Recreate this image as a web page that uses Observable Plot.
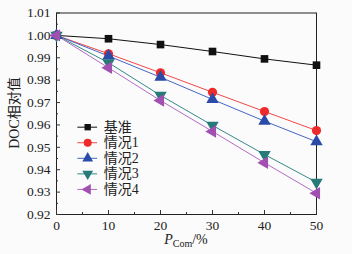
<!DOCTYPE html>
<html>
<head>
<meta charset="utf-8">
<script src="https://cdn.jsdelivr.net/npm/d3@7"></script>
<script src="https://cdn.jsdelivr.net/npm/@observablehq/plot@0.6"></script>
<style>
  html, body { margin: 0; padding: 0; background: #ffffff; }
  #chart svg { display: block; }
  #chart svg text { font-family: "Liberation Serif", "Noto Sans CJK SC", serif; }
</style>
</head>
<body>
<div id="chart"></div>
<script>
const pCom = [0, 10, 20, 30, 40, 50];
const seriesNames = ["基准", "情况1", "情况2", "情况3", "情况4"];
const base  = [1.0, 0.9985, 0.9959, 0.9928, 0.9895, 0.9867];
const case1 = [1.0, 0.9918, 0.9833, 0.9746, 0.9660, 0.9575];
const case2 = [1.0, 0.9908, 0.9813, 0.9714, 0.9617, 0.9525];
const case3 = [1.0, 0.9878, 0.9732, 0.9598, 0.9468, 0.9344];
const case4 = [1.0, 0.9855, 0.9709, 0.9571, 0.9431, 0.9295];
const yTicks = [0.92, 0.93, 0.94, 0.95, 0.96, 0.97, 0.98, 0.99, 1.00, 1.01];
const xTicks = [0, 10, 20, 30, 40, 50];

const allValues = [base, case1, case2, case3, case4];
const colors = ["#111111", "#ee2a2a", "#2a4ca8", "#267a78", "#a150b2"];
const lineColors = ["#111111", "#f04848", "#4466c4", "#338a88", "#b36cc4"];
const symbols = ["square", "circle", "triangle", "triangle", "triangle"];
const rotations = [0, 0, 0, 180, -90];

const rows = [];
allValues.forEach((vals, s) => {
  vals.forEach((v, i) => rows.push({series: seriesNames[s], s, x: pCom[i], y: v}));
});

const yMinor = d3.range(0.925, 1.01, 0.01);
const xMinor = [5, 15, 25, 35, 45];

// legend layout (in data units)
const legRows = seriesNames.map((n, s) => ({name: n, s, y: 0.9590 - s * 0.00695}));

const font = "Liberation Serif, Noto Sans CJK SC, serif";

const marks = [
  Plot.frame({stroke: "#222", strokeWidth: 1}),
  Plot.axisY(yTicks, {anchor: "left", label: null, tickSize: -4, tickPadding: 10, tickFormat: d3.format(".2f"), fontSize: 13.5, fontFamily: font, fill: "#222", stroke: "#333"}),
  Plot.axisY(yMinor, {anchor: "left", label: null, tickSize: -2, text: null, stroke: "#333"}),
  Plot.axisX(xTicks, {anchor: "bottom", label: null, tickSize: -4, tickPadding: 10, fontSize: 13.5, fontFamily: font, fill: "#222", stroke: "#333"}),
  Plot.axisX(xMinor, {anchor: "bottom", label: null, tickSize: -2, text: null, stroke: "#333"}),
];

allValues.forEach((vals, s) => {
  const data = rows.filter(r => r.s === s);
  marks.push(Plot.line(data, {x: "x", y: "y", stroke: lineColors[s], strokeWidth: 1}));
});
allValues.forEach((vals, s) => {
  const data = rows.filter(r => r.s === s);
  marks.push(Plot.dot(data, {x: "x", y: "y", symbol: () => symbols[s], fill: colors[s], stroke: "none", r: s === 0 ? 4.3 : 4.6, rotate: rotations[s]}));
});

// legend
marks.push(Plot.ruleY(legRows, {y: "y", x1: 4.1, x2: 7.9, stroke: d => lineColors[d.s], strokeWidth: 1}));
legRows.forEach(d => {
  marks.push(Plot.dot([d], {x: 6.0, y: "y", symbol: () => symbols[d.s], fill: colors[d.s], r: d.s === 0 ? 3.6 : 4.0, rotate: rotations[d.s]}));
});
marks.push(Plot.text(legRows, {x: 9.1, y: "y", text: "name", textAnchor: "start", fontSize: 14, fontFamily: font, fill: "#222"}));

const plot = Plot.plot({
  width: 352,
  height: 254,
  marginLeft: 56,
  marginRight: 36,
  marginTop: 12.5,
  marginBottom: 40,
  style: {background: "#fbfbfb", color: "#222"},
  x: {domain: [0, 50], axis: null},
  y: {domain: [0.92, 1.01], axis: null},
  marks
});

// axis titles as SVG text
const svg = d3.select(plot);
svg.append("text")
  .attr("transform", "translate(16,113) rotate(-90)")
  .attr("text-anchor", "middle")
  .attr("dominant-baseline", "middle")
  .style("font-size", "14px")
  .attr("fill", "#222")
  .text("DOC相对值");
const xt = svg.append("text")
  .attr("x", 186)
  .attr("y", 244)
  .attr("text-anchor", "middle")
  .style("font-size", "14px")
  .attr("fill", "#222");
xt.append("tspan").style("font-style", "italic").text("P");
xt.append("tspan").attr("dy", 3).style("font-size", "10px").text("Com");
xt.append("tspan").attr("dy", -3).text("/%");

document.getElementById("chart").appendChild(plot);
</script>
</body>
</html>
